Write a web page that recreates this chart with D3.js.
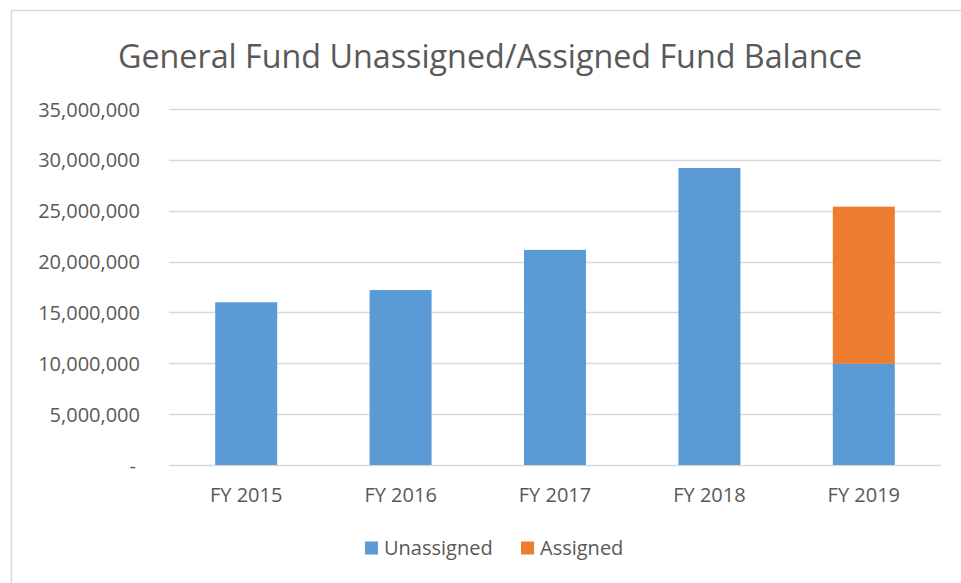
<!DOCTYPE html>
<html>
<head>
<meta charset="utf-8">
<script src="https://cdn.jsdelivr.net/npm/d3@7"></script>
<style>
  html, body { margin: 0; padding: 0; background: #fff; }
  svg { display: block; }
  text { font-family: "Open Sans", sans-serif; fill: #595959; }
</style>
</head>
<body>
<svg id="chart" width="961" height="583"></svg>
<script>
// Fiscal years and fund balance components
const years = ["FY 2015", "FY 2016", "FY 2017", "FY 2018", "FY 2019"];
const unassigned = [16000000, 17200000, 21150000, 29200000, 9950000];
const assigned = [0, 0, 0, 0, 15450000];
const seriesNames = ["Unassigned", "Assigned"];
const seriesColors = ["#5B9BD5", "#ED7D31"];
const yTicks = [0, 5000000, 10000000, 15000000, 20000000, 25000000, 30000000, 35000000];

const svg = d3.select("#chart");
const W = 961, H = 583;
const plot = { left: 169, right: 941, top: 109, bottom: 465 };

// Outer chart frame
svg.append("rect")
  .attr("x", 11.5).attr("y", 10.5)
  .attr("width", W + 20).attr("height", H + 20)
  .attr("fill", "none").attr("stroke", "#d9d9d9").attr("stroke-width", 1.5);

// Title
svg.append("text")
  .attr("x", 490).attr("y", 68)
  .attr("text-anchor", "middle")
  .attr("font-size", 32)
  .attr("textLength", 744).attr("lengthAdjust", "spacingAndGlyphs")
  .text("General Fund Unassigned/Assigned Fund Balance");

const x = d3.scaleBand().domain(years).range([plot.left, plot.right]).paddingInner(0.6).paddingOuter(0.3);
const y = d3.scaleLinear().domain([0, 35000000]).range([plot.bottom, plot.top]);

// Gridlines
svg.append("g")
  .selectAll("line")
  .data(yTicks)
  .join("line")
  .attr("x1", plot.left).attr("x2", plot.right)
  .attr("y1", d => Math.round(y(d)) + 0.5).attr("y2", d => Math.round(y(d)) + 0.5)
  .attr("stroke", "#d9d9d9").attr("stroke-width", 1.3);

// Y axis labels (accounting style: zero shown as a dash)
const fmt = d3.format(",");
const yAxis = d3.axisLeft(y).tickValues(yTicks).tickSize(0).tickPadding(0)
  .tickFormat(d => d === 0 ? "-" : fmt(d));
const gy = svg.append("g").attr("transform", "translate(140,0)").call(yAxis);
gy.select(".domain").remove();
gy.selectAll("text")
  .attr("font-size", 20)
  .attr("font-family", "Open Sans, sans-serif")
  .attr("fill", "#595959")
  .attr("dy", "0.35em")
  .attr("dx", d => d === 0 ? -4 : 0);

// Stacked bars
const rows = years.map((yr, i) => ({ year: yr, Unassigned: unassigned[i], Assigned: assigned[i] }));
const stack = d3.stack().keys(seriesNames)(rows);
const barW = 62;
svg.append("g")
  .selectAll("g")
  .data(stack)
  .join("g")
  .attr("fill", (d, i) => seriesColors[i])
  .selectAll("rect")
  .data(d => d.filter(s => s[1] - s[0] > 0))
  .join("rect")
  .attr("x", d => x(d.data.year) + x.bandwidth() / 2 - barW / 2)
  .attr("width", barW)
  .attr("y", d => y(d[1]))
  .attr("height", d => y(d[0]) - y(d[1]));

// X axis labels
const xAxis = d3.axisBottom(x).tickSize(0).tickPadding(0);
const gx = svg.append("g").attr("transform", `translate(0,${plot.bottom})`).call(xAxis);
gx.select(".domain").remove();
gx.selectAll("text")
  .attr("font-size", 20)
  .attr("font-family", "Open Sans, sans-serif")
  .attr("fill", "#595959")
  .attr("dy", "0.35em")
  .attr("y", 30);

// Legend
const legendItems = [
  { name: seriesNames[0], color: seriesColors[0], x: 365 },
  { name: seriesNames[1], color: seriesColors[1], x: 521 }
];
const lg = svg.append("g").selectAll("g").data(legendItems).join("g")
  .attr("transform", d => `translate(${d.x},548)`);
lg.append("rect").attr("x", 0).attr("y", -6.5).attr("width", 13).attr("height", 13)
  .attr("fill", d => d.color);
lg.append("text").attr("x", 19).attr("y", 0).attr("dy", "0.35em")
  .attr("font-size", 20).text(d => d.name);
</script>
</body>
</html>
